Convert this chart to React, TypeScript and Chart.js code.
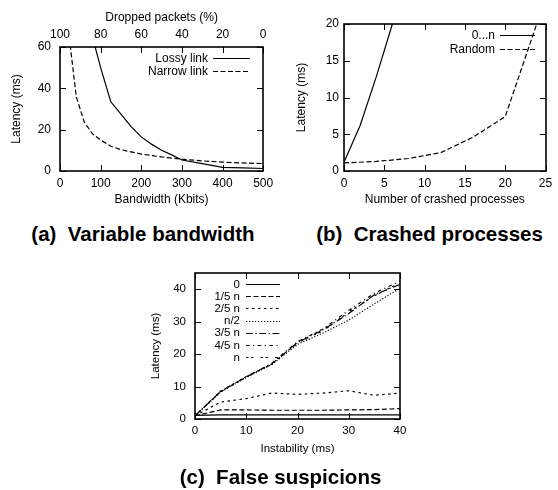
import React, { useEffect, useRef } from 'react';
import { Chart, registerables } from 'chart.js';
Chart.register(...registerables);

const FONT = "'Liberation Sans', Arial, Helvetica, sans-serif";
Chart.defaults.font.family = FONT;
Chart.defaults.color = '#000';

// ---------- (a) Variable bandwidth ----------
const lossyX = [75, 100, 125, 150, 175, 200, 225, 250, 275, 300, 350, 400, 450, 500];
const lossyY = [68.5, 50, 33.5, 27.5, 21.5, 16.5, 13, 10, 7.8, 5.3, 3.6, 1.8, 1.5, 1.2];
const narrowX = [25, 40, 60, 80, 100, 125, 150, 200, 250, 300, 350, 400, 450, 500];
const narrowY = [61, 36, 23.5, 18, 15, 12, 10.3, 8.2, 6.8, 5.7, 4.9, 4.3, 3.9, 3.6];
const bwTicks = [0, 100, 200, 300, 400, 500];
const dropTicks = [0, 20, 40, 60, 80, 100];
const latTicksA = [0, 20, 40, 60];

// ---------- (b) Crashed processes ----------
const onX = [0, 2, 4, 6, 8];
const onY = [1.2, 6.2, 12.8, 20, 28];
const randomX = [0, 4, 8, 12, 16, 20, 24];
const randomY = [1.1, 1.3, 1.7, 2.5, 4.6, 7.4, 20.3];
const crashTicks = [0, 5, 10, 15, 20, 25];
const latTicksB = [0, 5, 10, 15, 20];

// ---------- (c) False suspicions ----------
const instX = [0, 5, 10, 15, 20, 25, 30, 35, 40];
const fs0 = [1.1, 1.3, 1.3, 1.3, 1.3, 1.3, 1.3, 1.3, 1.3];
const fs15 = [1.0, 2.8, 2.8, 2.7, 2.7, 2.7, 2.8, 2.9, 3.2];
const fs25 = [1.0, 5.2, 6.3, 8.0, 7.6, 8.0, 8.7, 7.3, 8.0];
const fsHalf = [1.0, 8.3, 12.8, 16.8, 23.0, 26.5, 30.5, 35.5, 40.3];
const fs35 = [1.0, 8.5, 13.0, 17.0, 23.6, 27.5, 32.5, 38.3, 41.5];
const fs45 = [1.0, 8.4, 12.9, 17.2, 23.8, 27.8, 33.5, 38.8, 42.5];
const fsN = [1.0, 8.6, 13.1, 16.9, 23.5, 27.2, 33.0, 38.0, 42.0];
const fsLabels = ['0', '1/5 n', '2/5 n', 'n/2', '3/5 n', '4/5 n', 'n'];
const instTicks = [0, 10, 20, 30, 40];
const latTicksC = [0, 10, 20, 30, 40];

const DASHES: number[][] = [
  [],
  [5, 2.5],
  [2.5, 3.5],
  [1.2, 1.8],
  [7, 2.5, 1.2, 2.5],
  [3.5, 3.5, 1.2, 3.5],
  [2.5, 2.5, 2.5, 7],
];

const pts = (xs: number[], ys: number[]) => xs.map((x, i) => ({ x, y: ys[i] }));

const lineDs = (label: string, xs: number[], ys: number[], dash: number[]) => ({
  label,
  data: pts(xs, ys),
  borderColor: '#000',
  backgroundColor: '#000',
  borderWidth: 1.2,
  borderDash: dash,
  pointRadius: 0,
  tension: 0,
  fill: false,
});

const framePlugin = {
  id: 'gnuFrame',
  afterDatasetsDraw(chart: any) {
    const { ctx, chartArea: a, scales } = chart;
    const L = Math.round(a.left);
    const R = Math.round(a.right);
    const T = Math.round(a.top);
    const B = Math.round(a.bottom);
    ctx.save();
    ctx.strokeStyle = '#000';
    ctx.setLineDash([]);
    ctx.lineWidth = 1.6;
    ctx.strokeRect(L, T, R - L, B - T);
    const tl = 6;
    ctx.lineWidth = 1;
    ctx.beginPath();
    const x = scales.x;
    const hasX2 = !!scales.x2;
    x.ticks.forEach((t: any) => {
      const p = Math.round(x.getPixelForValue(t.value)) + 0.5;
      ctx.moveTo(p, B);
      ctx.lineTo(p, B - tl);
      if (!hasX2) {
        ctx.moveTo(p, T);
        ctx.lineTo(p, T + tl);
      }
    });
    if (hasX2) {
      const x2 = scales.x2;
      x2.ticks.forEach((t: any) => {
        const p = Math.round(x2.getPixelForValue(t.value)) + 0.5;
        ctx.moveTo(p, T);
        ctx.lineTo(p, T + tl);
      });
    }
    const y = scales.y;
    y.ticks.forEach((t: any) => {
      const p = Math.round(y.getPixelForValue(t.value)) + 0.5;
      ctx.moveTo(L, p);
      ctx.lineTo(L + tl, p);
      ctx.moveTo(R, p);
      ctx.lineTo(R - tl, p);
    });
    ctx.stroke();
    ctx.restore();
  },
};

const legendPlugin = {
  id: 'gnuLegend',
  afterDraw(chart: any, _args: any, opts: any) {
    if (!opts || opts.textRight === undefined) return;
    const { ctx } = chart;
    ctx.save();
    ctx.font = `${opts.fontSize}px ${FONT}`;
    ctx.fillStyle = '#000';
    ctx.strokeStyle = '#000';
    ctx.lineWidth = 1.2;
    ctx.textAlign = 'right';
    ctx.textBaseline = 'middle';
    chart.data.datasets.forEach((ds: any, i: number) => {
      const yy = opts.y0 + i * opts.dy;
      ctx.fillText(ds.label, opts.textRight, yy + 0.5);
      ctx.setLineDash(ds.borderDash || []);
      ctx.beginPath();
      const ly = Math.round(yy) + 0.5;
      ctx.moveTo(opts.x0, ly);
      ctx.lineTo(opts.x1, ly);
      ctx.stroke();
    });
    ctx.restore();
  },
};

const fixedTicks = (vals: number[]) => (s: any) => {
  s.ticks = vals.map((v) => ({ value: v }));
};

function axis(opts: {
  position: string;
  min: number;
  max: number;
  ticks: number[];
  size: number;
  fontSize: number;
  tickPad: number;
  title?: string;
  titlePad?: any;
  reverse?: boolean;
  axisKey?: string;
}) {
  const horizontal = opts.position === 'top' || opts.position === 'bottom';
  return {
    type: 'linear',
    axis: opts.axisKey,
    position: opts.position,
    min: opts.min,
    max: opts.max,
    reverse: !!opts.reverse,
    afterBuildTicks: fixedTicks(opts.ticks),
    afterFit: (s: any) => {
      if (horizontal) s.height = opts.size;
      else s.width = opts.size;
    },
    grid: { display: false, drawTicks: false },
    border: { display: false },
    ticks: {
      padding: opts.tickPad,
      color: '#000',
      font: { size: opts.fontSize, family: FONT },
      maxRotation: 0,
      autoSkip: false,
      callback: (v: any) => String(v),
    },
    title: opts.title
      ? {
          display: true,
          text: opts.title,
          color: '#000',
          font: { size: opts.fontSize, family: FONT },
          padding: opts.titlePad,
        }
      : { display: false },
  };
}

function useChart(ref: React.RefObject<HTMLCanvasElement>, build: () => any) {
  useEffect(() => {
    if (!ref.current) return;
    const chart = new Chart(ref.current, build());
    return () => chart.destroy();
  }, []);
}

const baseOptions = (padding: any, scales: any, legend: any) => ({
  responsive: false,
  animation: false,
  devicePixelRatio: 1,
  layout: { padding },
  parsing: true,
  plugins: {
    legend: { display: false },
    tooltip: { enabled: false },
    gnuLegend: legend,
  },
  scales,
});

function ChartA() {
  const ref = useRef<HTMLCanvasElement>(null);
  useChart(ref, () => ({
    type: 'line',
    data: {
      datasets: [
        lineDs('Lossy link', lossyX, lossyY, DASHES[0]),
        lineDs('Narrow link', narrowX, narrowY, DASHES[1]),
      ],
    },
    options: baseOptions(
      { left: 0, right: 14, top: 0, bottom: 0 },
      {
        x: axis({ position: 'bottom', min: 0, max: 500, ticks: bwTicks, size: 44, fontSize: 12, tickPad: 5.8, title: 'Bandwidth (Kbits)', titlePad: { top: 0, bottom: 7.8 } }),
        x2: axis({ axisKey: 'x', position: 'top', min: 0, max: 100, reverse: true, ticks: dropTicks, size: 47, fontSize: 12, tickPad: 4.8, title: 'Dropped packets (%)', titlePad: { top: 10.8, bottom: 0 } }),
        y: axis({ position: 'left', min: 0, max: 60, ticks: latTicksA, size: 60, fontSize: 12, tickPad: 9, title: 'Latency (ms)', titlePad: { top: 9.8, bottom: 0 } }),
      },
      { textRight: 208, x0: 213, x1: 250, y0: 58, dy: 13, fontSize: 12 }
    ),
    plugins: [framePlugin, legendPlugin],
  }));
  return <canvas ref={ref} width={279} height={215} style={{ position: 'absolute', left: 0, top: 0 }} />;
}

function ChartB() {
  const ref = useRef<HTMLCanvasElement>(null);
  useChart(ref, () => ({
    type: 'line',
    data: {
      datasets: [
        lineDs('0...n', onX, onY, DASHES[0]),
        lineDs('Random', randomX, randomY, DASHES[1]),
      ],
    },
    options: baseOptions(
      { left: 0, right: 10, top: 24, bottom: 0 },
      {
        x: axis({ position: 'bottom', min: 0, max: 25, ticks: crashTicks, size: 44, fontSize: 12, tickPad: 5.8, title: 'Number of crashed processes', titlePad: { top: 0, bottom: 7.8 } }),
        y: axis({ position: 'left', min: 0, max: 20, ticks: latTicksB, size: 65, fontSize: 12, tickPad: 5, title: 'Latency (ms)', titlePad: { top: 15.8, bottom: 0 } }),
      },
      { textRight: 216, x0: 221, x1: 256, y0: 35, dy: 14, fontSize: 12 }
    ),
    plugins: [framePlugin, legendPlugin],
  }));
  return <canvas ref={ref} width={279} height={215} style={{ position: 'absolute', left: 279, top: 0 }} />;
}

function ChartC() {
  const ref = useRef<HTMLCanvasElement>(null);
  const series = [fs0, fs15, fs25, fsHalf, fs35, fs45, fsN];
  useChart(ref, () => ({
    type: 'line',
    data: {
      datasets: series.map((s, i) => lineDs(fsLabels[i], instX, s, DASHES[i])),
    },
    options: baseOptions(
      { left: 0, right: 20, top: 23, bottom: 0 },
      {
        x: axis({ position: 'bottom', min: 0, max: 40, ticks: instTicks, size: 71, fontSize: 11.5, tickPad: 5.1, title: 'Instability (ms)', titlePad: { top: 0, bottom: 34.1 } }),
        y: axis({ position: 'left', min: 0, max: 45, ticks: latTicksC, size: 55, fontSize: 11.5, tickPad: 9, title: 'Latency (ms)', titlePad: { top: 9.1, bottom: 0 } }),
      },
      { textRight: 100, x0: 106, x1: 140, y0: 34, dy: 12.2, fontSize: 11.5 }
    ),
    plugins: [framePlugin, legendPlugin],
  }));
  return <canvas ref={ref} width={280} height={240} style={{ position: 'absolute', left: 140, top: 250 }} />;
}

const captionStyle = (cx: number, top: number): React.CSSProperties => ({
  position: 'absolute',
  left: cx - 150,
  top,
  width: 300,
  textAlign: 'center',
  fontFamily: FONT,
  fontWeight: 'bold',
  fontSize: '20.5px',
  lineHeight: '24px',
  whiteSpace: 'pre',
  color: '#000',
});

export default function App() {
  return (
    <div style={{ position: 'absolute', left: 0, top: 0, width: 558, height: 490, background: '#fff', overflow: 'hidden' }}>
      <ChartA />
      <ChartB />
      <ChartC />
      <div style={captionStyle(143, 222)}>{'(a)  Variable bandwidth'}</div>
      <div style={captionStyle(429.5, 222)}>{'(b)  Crashed processes'}</div>
      <div style={captionStyle(280.5, 465)}>{'(c)  False suspicions'}</div>
    </div>
  );
}
